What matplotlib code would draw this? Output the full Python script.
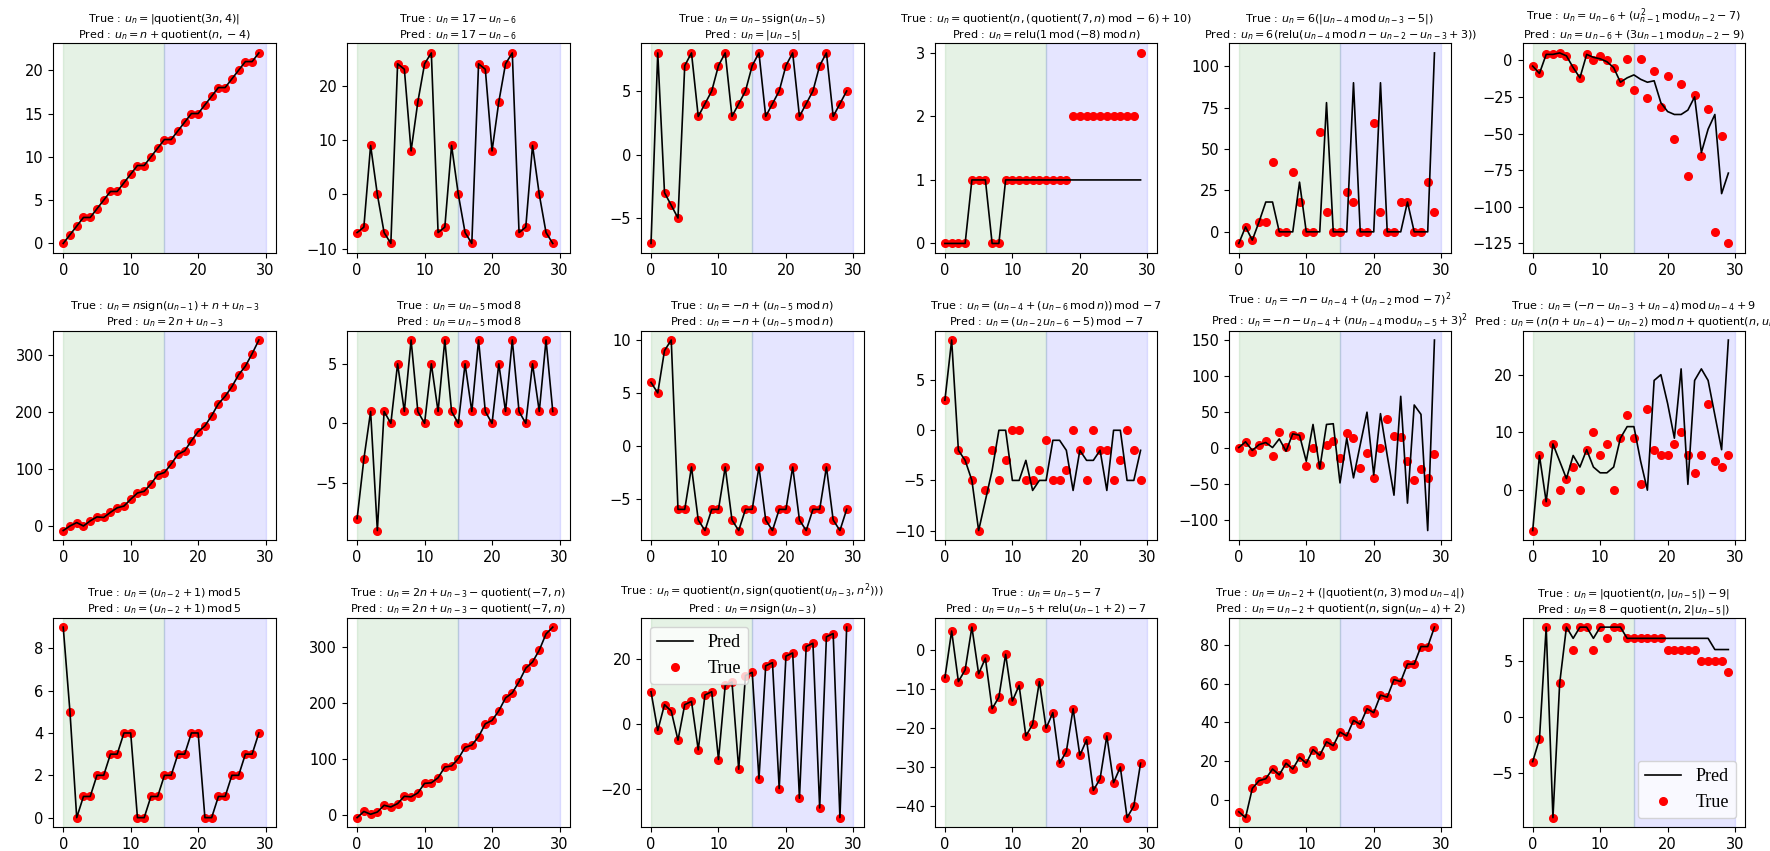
import numpy as np
import matplotlib.pyplot as plt
from matplotlib.ticker import MaxNLocator

n = np.arange(30)

# row 1
true_01 = [0, 1, 2, 3, 3, 4, 5, 6, 6, 7, 8, 9, 9, 10, 11, 12, 12, 13, 14, 15, 15, 16, 17, 18, 18, 19, 20, 21, 21, 22]
pred_01 = true_01
true_02 = [-7, -6, 9, 0, -7, -9, 24, 23, 8, 17, 24, 26, -7, -6, 9, 0, -7, -9, 24, 23, 8, 17, 24, 26, -7, -6, 9, 0, -7, -9]
pred_02 = true_02
true_03 = [-7, 8, -3, -4, -5, 7, 8, 3, 4, 5, 7, 8, 3, 4, 5, 7, 8, 3, 4, 5, 7, 8, 3, 4, 5, 7, 8, 3, 4, 5]
pred_03 = true_03
true_04 = [0, 0, 0, 0, 1, 1, 1, 0, 0, 1, 1, 1, 1, 1, 1, 1, 1, 1, 1, 2, 2, 2, 2, 2, 2, 2, 2, 2, 2, 3]
pred_04 = [0, 0, 0, 0, 1, 1, 1, 0, 0, 1, 1, 1, 1, 1, 1, 1, 1, 1, 1, 1, 1, 1, 1, 1, 1, 1, 1, 1, 1, 1]
true_05 = [-7, 3, -5, 6, 6, 42, 0, 0, 36, 18, 0, 0, 60, 12, 0, 0, 24, 18, 0, 0, 66, 12, 0, 0, 18, 18, 0, 0, 30, 12]
pred_05 = [-7, 3, -5, 6, 18, 18, 0, 0, 0, 30, 0, 0, 0, 78, 0, 0, 0, 90, 0, 0, 0, 90, 0, 0, 0, 18, 0, 0, 0, 108]
true_06 = [-4, -9, 4, 4, 5, 3, -5, -12, 4, 0, 3, 0, -5, -15, 1, -20, 1, -26, -7, -32, -11, -54, -16, -79, -24, -65, -33, -117, -52, -125]
pred_06 = [-4, -9, 4, 4, 5, 3, -5, -12, 4, 2, 1, -1, -5, -15, -12, -10, -13, -15, -14, -29, -35, -37, -37, -34, -25, -63, -47, -37, -91, -77]

# row 2
true_07 = [-8, 0, 6, 0, 9, 16, 15, 24, 32, 35, 47, 58, 61, 74, 90, 94, 109, 126, 132, 150, 166, 176, 194, 215, 228, 245, 266, 281, 303, 327]
pred_07 = true_07
true_08 = [-8, -3, 1, -9, 1, 0, 5, 1, 7, 1, 0, 5, 1, 7, 1, 0, 5, 1, 7, 1, 0, 5, 1, 7, 1, 0, 5, 1, 7, 1]
pred_08 = true_08
true_09 = [6, 5, 9, 10, -6, -6, -2, -7, -8, -6, -6, -2, -7, -8, -6, -6, -2, -7, -8, -6, -6, -2, -7, -8, -6, -6, -2, -7, -8, -6]
pred_09 = true_09
true_10 = [3, 9, -2, -3, -5, -10, -6, -2, -5, -3, 0, 0, -5, -5, -4, -1, -5, -5, -4, 0, -2, -5, 0, -2, -2, -5, -3, 0, -2, -5]
pred_10 = [3, 9, -2, -3, -5, -10, -7, -4, 0, 0, -5, -5, -3, -6, -5, -5, -1, -1, -2, -6, -2, -3, -3, -2, -6, 0, 0, -5, -5, -2]
true_11 = [1, 9, -5, 5, 10, -11, 22, 2, 18, 17, -24, 1, -23, 5, 10, -13, 21, 14, -28, -7, -41, 1, 41, 17, 16, -18, -44, -29, -41, -8]
pred_11 = [1, 9, -3, 5, 8, 1, 13, -4, 20, 18, -18, 33, -28, 33, 34, -48, 14, -41, 5, 50, -37, 48, -10, -65, 72, -76, 60, 47, -114, 150]
true_12 = [-7, 6, -2, 8, 0, 2, 4, 0, 7, 10, 6, 8, 0, 9, 13, 9, 1, 14, 7, 6, 6, 8, 10, 6, 3, 6, 15, 5, 4, 6]
pred_12 = [-7, 6, -2, 8, 5, 2, 6, 4, 7, 4, 3, 3, 4, 9, 11, 11, 5, 0, 19, 20, 15, 9, 21, 1, 19, 21, 19, 13, 7, 26]

# row 3
true_13 = [9, 5, 0, 1, 1, 2, 2, 3, 3, 4, 4, 0, 0, 1, 1, 2, 2, 3, 3, 4, 4, 0, 0, 1, 1, 2, 2, 3, 3, 4]
pred_13 = true_13
true_14 = [-4, 7, 2, 6, 18, 15, 21, 34, 33, 40, 57, 58, 67, 86, 88, 101, 121, 125, 140, 163, 169, 186, 209, 218, 238, 262, 273, 294, 323, 335]
pred_14 = true_14
true_15 = [10, -2, 6, 4, -5, 6, 7, -8, 9, 10, -11, 12, 13, -14, 15, 16, -17, 18, 19, -20, 21, 22, -23, 24, 25, -26, 27, 28, -29, 30]
pred_15 = true_15
true_16 = [-7, 5, -8, -5, 6, -6, -2, -15, -12, -1, -13, -9, -22, -19, -8, -20, -16, -29, -26, -15, -27, -23, -36, -33, -22, -34, -30, -43, -40, -29]
pred_16 = true_16
true_17 = [-6, -9, 6, 10, 11, 16, 13, 19, 16, 22, 19, 26, 23, 30, 28, 35, 33, 41, 39, 47, 45, 54, 53, 62, 61, 70, 70, 79, 79, 89]
pred_17 = true_17
true_18 = [-4, -2, 8, -9, 3, 8, 6, 8, 8, 6, 8, 7, 8, 8, 7, 7, 7, 7, 7, 7, 6, 6, 6, 6, 6, 5, 5, 5, 5, 4]
pred_18 = [-4, -2, 8, -9, 3, 8, 7, 8, 8, 7, 8, 8, 8, 8, 7, 7, 7, 7, 7, 7, 7, 7, 7, 7, 7, 7, 7, 6, 6, 6]

M = r"\,\mathrm{mod}\,"
Q = r"\mathrm{quotient}"
formulas = [
    (r"u_n = |" + Q + r"(3n, 4)|", r"u_n = n + " + Q + r"(n, -4)"),
    (r"u_n = 17 - u_{n-6}", r"u_n = 17 - u_{n-6}"),
    (r"u_n = u_{n-5}\mathrm{sign}(u_{n-5})", r"u_n = |u_{n-5}|"),
    (r"u_n = " + Q + r"(n, (" + Q + r"(7, n)" + M + r"-6) + 10)", r"u_n = \mathrm{relu}(1" + M + r"(-8)" + M + r"n)"),
    (r"u_n = 6(|u_{n-4}" + M + r"u_{n-3} - 5|)", r"u_n = 6(\mathrm{relu}(u_{n-4}" + M + r"n - u_{n-2} - u_{n-3} + 3))"),
    (r"u_n = u_{n-6} + (u_{n-1}^2" + M + r"u_{n-2} - 7)", r"u_n = u_{n-6} + (3u_{n-1}" + M + r"u_{n-2} - 9)"),
    (r"u_n = n\mathrm{sign}(u_{n-1}) + n + u_{n-3}", r"u_n = 2n + u_{n-3}"),
    (r"u_n = u_{n-5}" + M + r"8", r"u_n = u_{n-5}" + M + r"8"),
    (r"u_n = -n + (u_{n-5}" + M + r"n)", r"u_n = -n + (u_{n-5}" + M + r"n)"),
    (r"u_n = (u_{n-4} + (u_{n-6}" + M + r"n))" + M + r"-7", r"u_n = (u_{n-2}u_{n-6} - 5)" + M + r"-7"),
    (r"u_n = -n - u_{n-4} + (u_{n-2}" + M + r"-7)^2", r"u_n = -n - u_{n-4} + (nu_{n-4}" + M + r"u_{n-5} + 3)^2"),
    (r"u_n = (-n - u_{n-3} + u_{n-4})" + M + r"u_{n-4} + 9", r"u_n = (n(n + u_{n-4}) - u_{n-2})" + M + r"n + " + Q + r"(n, u_{n-1})"),
    (r"u_n = (u_{n-2} + 1)" + M + r"5", r"u_n = (u_{n-2} + 1)" + M + r"5"),
    (r"u_n = 2n + u_{n-3} - " + Q + r"(-7, n)", r"u_n = 2n + u_{n-3} - " + Q + r"(-7, n)"),
    (r"u_n = " + Q + r"(n, \mathrm{sign}(" + Q + r"(u_{n-3}, n^2)))", r"u_n = n\mathrm{sign}(u_{n-3})"),
    (r"u_n = u_{n-5} - 7", r"u_n = u_{n-5} + \mathrm{relu}(u_{n-1} + 2) - 7"),
    (r"u_n = u_{n-2} + (|" + Q + r"(n, 3)" + M + r"u_{n-4}|)", r"u_n = u_{n-2} + " + Q + r"(n, \mathrm{sign}(u_{n-4}) + 2)"),
    (r"u_n = |" + Q + r"(n, |u_{n-5}|) - 9|", r"u_n = 8 - " + Q + r"(n, 2|u_{n-5}|)"),
]

trues = [true_01, true_02, true_03, true_04, true_05, true_06,
         true_07, true_08, true_09, true_10, true_11, true_12,
         true_13, true_14, true_15, true_16, true_17, true_18]
preds = [pred_01, pred_02, pred_03, pred_04, pred_05, pred_06,
         pred_07, pred_08, pred_09, pred_10, pred_11, pred_12,
         pred_13, pred_14, pred_15, pred_16, pred_17, pred_18]

fig, axes = plt.subplots(3, 6, figsize=(17.7, 8.51), dpi=100)
plt.subplots_adjust(left=0.03, right=0.986, top=0.949, bottom=0.028, wspace=0.32, hspace=0.37)

tick_steps = [1, 2, 2.5, 5, 10]
for i, ax in enumerate(axes.flat):
    # train part (green) and extrapolation part (blue)
    ax.axvspan(0, 15, color="green", alpha=0.1)
    ax.axvspan(15, 30, color="blue", alpha=0.1)
    ax.plot(n, preds[i], color="black", lw=1.2, zorder=3, label="Pred")
    ax.plot(n, trues[i], "o", color="red", ms=5.5, label="True")
    t, p = formulas[i]
    ax.set_title(f"True : ${t}$\nPred : ${p}$", fontsize=8, pad=4)
    ax.xaxis.set_major_locator(MaxNLocator(nbins=6, steps=tick_steps))
    ax.yaxis.set_major_locator(MaxNLocator(nbins=6, steps=tick_steps))
    ax.tick_params(labelsize=10.5)

legend_font = {"family": "Liberation Serif", "size": 13}
axes[2, 2].legend(loc="upper left", prop=legend_font)
axes[2, 5].legend(loc="lower right", prop=legend_font)

plt.savefig("out.png")
